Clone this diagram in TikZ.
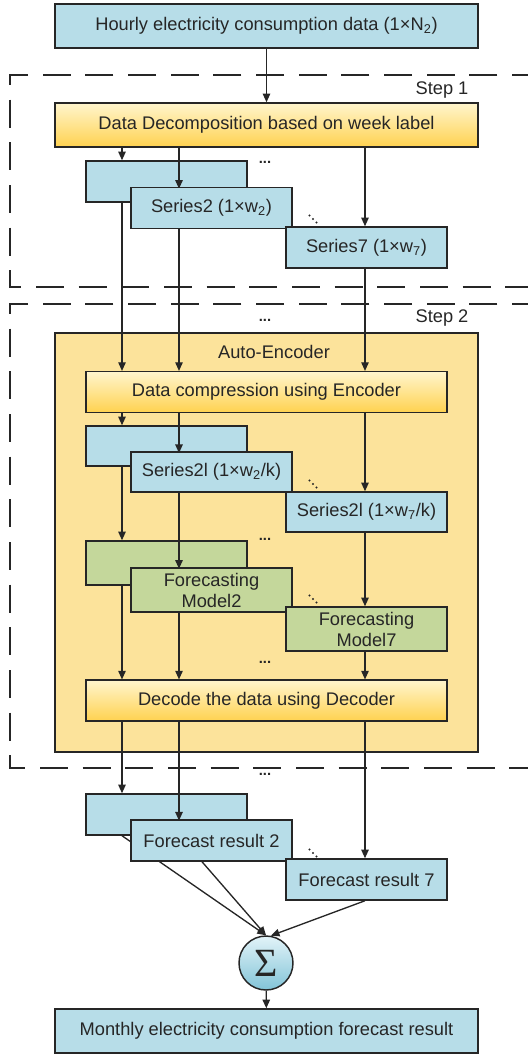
\documentclass[tikz,border=0pt]{standalone}
\usepackage{fontspec}
\setmainfont{Liberation Sans}
\newfontfamily\sigmafont{Liberation Serif}
\usepackage{tikz}
\usetikzlibrary{arrows.meta,positioning,calc}
\definecolor{boxBlue}{RGB}{183,221,232}
\definecolor{boxGreen}{RGB}{196,215,155}
\definecolor{aeYellow}{RGB}{252,227,155}
\definecolor{gradTop}{RGB}{255,245,205}
\definecolor{gradBot}{RGB}{255,210,80}
\definecolor{sigTop}{RGB}{226,243,248}
\definecolor{sigBot}{RGB}{130,196,216}
\definecolor{inkG}{RGB}{38,38,38}

\begin{document}
\begin{tikzpicture}[x=0.75pt, y=-0.75pt,
  box/.style={draw=inkG, line width=1.1pt, fill=#1, inner sep=0pt,
    align=center, text=inkG, font=\fontsize{13.7}{15.8}\selectfont},
  wide/.style={box=#1, minimum width=317.25pt, minimum height=33pt},
  mid/.style={box=#1, minimum width=270.75pt, minimum height=30.5pt},
  small/.style={box=#1, minimum width=120.75pt, minimum height=30.75pt},
  grad/.style={top color=gradTop, bottom color=gradBot},
  stepframe/.style={draw=inkG, line width=1.1pt, dash pattern=on 21pt off 11pt},
  lab/.style={text=inkG, font=\fontsize{13.7}{15.8}\selectfont, inner sep=0pt},
  dots/.style={text=inkG, font=\fontsize{11}{11}\selectfont\bfseries, inner sep=0pt},
  arr/.style={-{Triangle[length=6.5pt, width=5.6pt]}, line width=1pt, inkG},
]
\useasboundingbox (0,0) rectangle (528,1054);

% column positions of the arrows
\coordinate (cA) at (122,0);
\coordinate (cB) at (179,0);
\coordinate (cC) at (365,0);

% Step frames and auto-encoder area
\draw[stepframe] (540,75) -| (10,287) -- (540,287);
\draw[stepframe] (540,304) -| (10,768) -- (540,768);
\node[lab] (st1) at (442,90) {Step 1};
\node[lab] (st2) at (442,318) {Step 2};
\node[box=aeYellow, minimum width=317.25pt, minimum height=314.25pt] (ae) at (266.5,542.5) {};
\node[lab] (aelab) at (274,352) {Auto-Encoder};

% Step 1: decomposition
\node[wide=boxBlue] (src) at (266.5,26) {Hourly electricity consumption data (1×N\textsubscript{2})};
\node[wide=boxBlue, grad] (decomp) at (266.5,125) {Data Decomposition based on week label};
\draw[arr] (src) -- (decomp);

\node[small=boxBlue] (s1) at (166.5,181.5) {};
\draw[arr] (decomp.south -| cA) -- (s1.north -| cA);
\draw[arr] (decomp.south -| cB) -- ++(0,41);
\node[small=boxBlue] (s2) at (211.5,208) {Series2 (1×w\textsubscript{2})};
\node[small=boxBlue] (s7) at (366.5,247.5) {Series7 (1×w\textsubscript{7})};
\draw[arr] (decomp.south -| cC) -- (s7.north -| cC);
\node[dots] (d1) at (265,162) {...};
\coordinate (dd1) at (313,219);

% Step 2: encoder
\node[dots] (d2) at (265,320) {...};
\node[mid=boxBlue, grad] (enc) at (266.5,392) {Data compression using Encoder};
\draw[arr] (s1.south -| cA) -- (enc.north -| cA);
\draw[arr] (s2.south -| cB) -- (enc.north -| cB);
\draw[arr] (s7.south -| cC) -- (enc.north -| cC);

\node[small=boxBlue, minimum height=30pt] (l1) at (166.5,446) {};
\draw[arr] (enc.south -| cA) -- (l1.north -| cA);
\draw[arr] (enc.south -| cB) -- ++(0,40);
\node[small=boxBlue, minimum height=30pt] (l2) at (211.5,472) {Series2l (1×w\textsubscript{2}/k)};
\node[small=boxBlue, minimum height=30pt] (l7) at (366.5,512) {Series2l (1×w\textsubscript{7}/k)};
\draw[arr] (enc.south -| cC) -- (l7.north -| cC);
\coordinate (dd2) at (313,484);

% forecasting models
\node[small=boxGreen, minimum height=33pt] (m1) at (166.5,563) {};
\draw[arr] (l1.south -| cA) -- (m1.north -| cA);
\draw[arr] (l2.south -| cB) -- ++(0,76);
\node[small=boxGreen, minimum height=33pt] (m2) at (211.5,590) {Forecasting\\Model2};
\node[small=boxGreen, minimum height=33pt] (m7) at (366.5,629) {Forecasting\\Model7};
\draw[arr] (l7.south -| cC) -- (m7.north -| cC);
\node[dots] (d3) at (265,539) {...};
\coordinate (dd3) at (313,599);

% decoder
\node[dots] (d4) at (265,662) {...};
\node[mid=boxBlue, grad] (dec) at (266.5,700.5) {Decode the data using Decoder};
\draw[arr] (m1.south -| cA) -- (dec.north -| cA);
\draw[arr] (m2.south -| cB) -- (dec.north -| cB);
\draw[arr] (m7.south -| cC) -- (dec.north -| cC);

% forecast results and sum
\node[dots] (d5) at (265,774) {...};
\node[circle, draw=inkG, line width=1.1pt, minimum size=40.5pt, inner sep=0pt,
  top color=sigTop, bottom color=sigBot, text=inkG,
  font=\sigmafont\fontsize{30}{30}\selectfont] (sum) at (266,963) {Σ};
\node[wide=boxBlue] (out) at (266.5,1031) {Monthly electricity consumption forecast result};
\draw[arr] (sum) -- (out);

\node[small=boxBlue] (r1) at (166.5,814.5) {};
\draw[arr] (dec.south -| cA) -- (r1.north -| cA);
\draw[arr] (r1.south -| cA) -- (sum.north);
\draw[arr] (dec.south -| cB) -- ++(0,99);
\node[small=boxBlue] (r2) at (211.5,840.5) {Forecast result 2};
\node[small=boxBlue] (r7) at (366.5,879.5) {Forecast result 7};
\draw[arr] (dec.south -| cC) -- (r7.north -| cC);
\draw[arr] ($(r2.south)+(-9.5,0)$) -- (sum.north);
\draw[arr] (r7.south -| cC) -- (sum.80);
\coordinate (dd4) at (313,853);

% diagonal dots between the cascades
\foreach \p in {dd1,dd2,dd3,dd4}
  \fill[inkG] (\p) ++(-3.5,-3.5) circle (1.1) ++(3.5,3.5) circle (1.1) ++(3.5,3.5) circle (1.1);

\end{tikzpicture}
\end{document}
